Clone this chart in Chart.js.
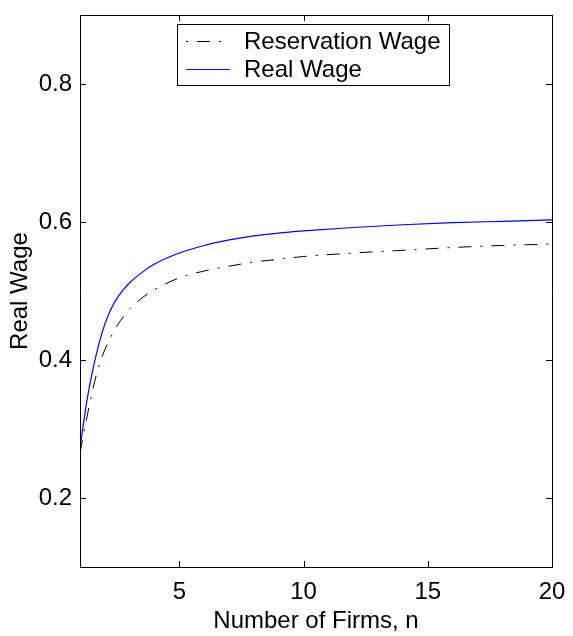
<!DOCTYPE html>
<html>
<head>
<meta charset="utf-8">
<script src="https://cdn.jsdelivr.net/npm/chart.js@4.4.0/dist/chart.umd.min.js"></script>
<style>
    html, body { margin: 0; padding: 0; background: #fff; }
    #wrap { width: 573px; height: 636px; }
</style>
</head>
<body>
<div id="wrap"><canvas id="wageChart" width="573" height="636"></canvas></div>
<script>
// values
const firms = [1, 1.25, 1.5, 1.75, 2, 2.25, 2.5, 2.75, 3, 3.5, 4, 5, 6, 7, 8, 9, 10, 12, 14, 16, 18, 20];
const reservationWage = [0.265, 0.312, 0.355, 0.39, 0.415, 0.434, 0.45, 0.463, 0.474, 0.49, 0.502, 0.519, 0.529, 0.536, 0.542, 0.546, 0.55, 0.555, 0.559, 0.563, 0.566, 0.568];
const realWage = [0.272, 0.335, 0.383, 0.422, 0.452, 0.474, 0.49, 0.502, 0.512, 0.527, 0.539, 0.555, 0.566, 0.574, 0.58, 0.584, 0.587, 0.592, 0.596, 0.599, 0.601, 0.603];
const xTicks = [5, 10, 15, 20];
const yTicks = [0.2, 0.4, 0.6, 0.8];

const FONT = '"Liberation Sans", Arial, Helvetica, sans-serif';
const dashDot = [13, 9, 2, 9];

// box round the plot with inward ticks on all four sides
const boxPlugin = {
    id: 'boxPlugin',
    afterDatasetsDraw(chart) {
        const ctx = chart.ctx;
        const a = chart.chartArea;
        const xs = chart.scales.x;
        const ys = chart.scales.y;
        const len = 6;
        ctx.save();
        ctx.strokeStyle = '#000';
        ctx.lineWidth = 1;
        ctx.beginPath();
        ctx.rect(a.left + 0.5, a.top + 0.5, a.right - a.left, a.bottom - a.top);
        xs.ticks.forEach(t => {
            const px = Math.round(xs.getPixelForValue(t.value)) + 0.5;
            ctx.moveTo(px, a.bottom);
            ctx.lineTo(px, a.bottom - len);
            ctx.moveTo(px, a.top);
            ctx.lineTo(px, a.top + len);
        });
        ys.ticks.forEach(t => {
            const py = Math.round(ys.getPixelForValue(t.value)) + 0.5;
            ctx.moveTo(a.left, py);
            ctx.lineTo(a.left + len, py);
            ctx.moveTo(a.right, py);
            ctx.lineTo(a.right - len, py);
        });
        ctx.stroke();
        ctx.restore();
    }
};

// boxed legend like the original figure
const legendBox = {
    id: 'legendBox',
    afterDraw(chart) {
        const ctx = chart.ctx;
        const x0 = 177, y0 = 24, w = 272, h = 61;
        ctx.save();
        ctx.fillStyle = '#fff';
        ctx.fillRect(x0, y0, w, h);
        ctx.strokeStyle = '#000';
        ctx.lineWidth = 1;
        ctx.strokeRect(x0 + 0.5, y0 + 0.5, w, h);

        chart.data.datasets.forEach((ds, i) => {
            const cy = y0 + 17 + i * 28;
            ctx.beginPath();
            ctx.strokeStyle = ds.borderColor;
            ctx.lineWidth = ds.borderWidth;
            ctx.setLineDash(ds.borderDash || []);
            ctx.lineDashOffset = ds.borderDash ? 22 : 0;
            ctx.moveTo(186, cy + 0.5);
            ctx.lineTo(230, cy + 0.5);
            ctx.stroke();
            ctx.setLineDash([]);
            ctx.fillStyle = '#000';
            ctx.font = '24px ' + FONT;
            ctx.textBaseline = 'middle';
            ctx.fillText(ds.label, 244, cy + 1);
        });
        ctx.restore();
    }
};

const ctx = document.getElementById('wageChart').getContext('2d');
new Chart(ctx, {
    type: 'line',
    data: {
        datasets: [{
            label: 'Reservation Wage',
            data: firms.map((n, i) => ({ x: n, y: reservationWage[i] })),
            borderColor: '#000',
            borderWidth: 1,
            borderDash: dashDot,
            pointRadius: 0,
            cubicInterpolationMode: 'monotone',
            fill: false
        }, {
            label: 'Real Wage',
            data: firms.map((n, i) => ({ x: n, y: realWage[i] })),
            borderColor: '#0000ff',
            borderWidth: 1.2,
            pointRadius: 0,
            cubicInterpolationMode: 'monotone',
            fill: false
        }]
    },
    options: {
        responsive: false,
        animation: false,
        layout: { padding: { top: 15, right: 21, left: 0, bottom: 0 } },
        plugins: {
            legend: { display: false },
            tooltip: { enabled: false }
        },
        scales: {
            x: {
                type: 'linear',
                min: 1,
                max: 20,
                afterBuildTicks: s => { s.ticks = xTicks.map(v => ({ value: v })); },
                afterFit: s => { s.height = 69; s.paddingLeft = 0; s.paddingRight = 0; },
                grid: { display: false, drawTicks: false },
                border: { display: false },
                ticks: {
                    color: '#000',
                    font: { family: FONT, size: 24 },
                    padding: 11,
                    maxRotation: 0
                },
                title: {
                    display: true,
                    text: 'Number of Firms, n',
                    color: '#000',
                    font: { family: FONT, size: 24 },
                    padding: { top: 0, bottom: 0 }
                }
            },
            y: {
                type: 'linear',
                min: 0.1,
                max: 0.9,
                afterBuildTicks: s => { s.ticks = yTicks.map(v => ({ value: v })); },
                afterFit: s => { s.width = 80; s.paddingTop = 0; s.paddingBottom = 0; },
                grid: { display: false, drawTicks: false },
                border: { display: false },
                ticks: {
                    color: '#000',
                    font: { family: FONT, size: 24 },
                    padding: 8,
                    callback: v => v.toFixed(1)
                },
                title: {
                    display: true,
                    text: 'Real Wage',
                    color: '#000',
                    font: { family: FONT, size: 24 },
                    padding: { top: 6, bottom: 0 }
                }
            }
        }
    },
    plugins: [boxPlugin, legendBox]
});
</script>
</body>
</html>
